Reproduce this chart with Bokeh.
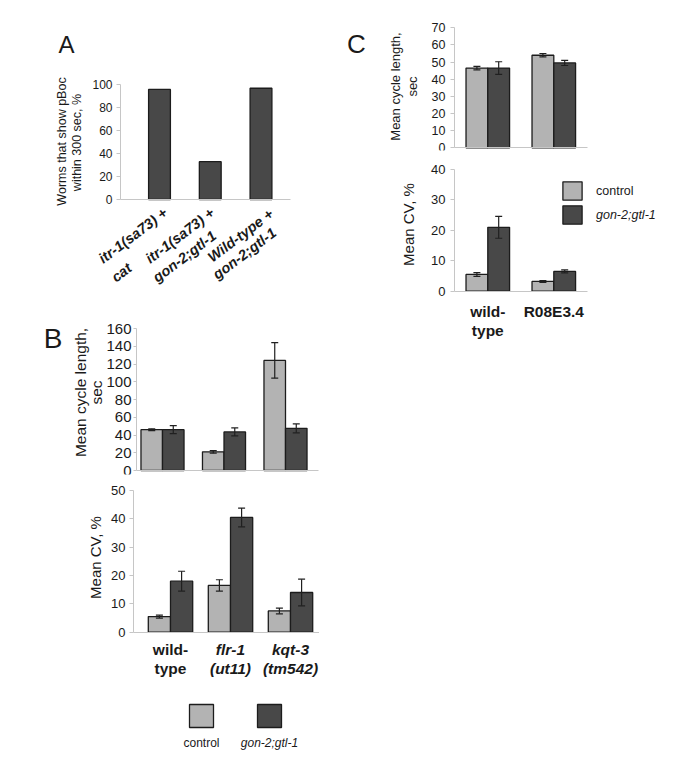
import numpy as np
from bokeh.plotting import figure
from bokeh.models import (ColumnDataSource, Range1d, Whisker, TeeHead,
                          Label, Legend, LegendItem, FixedTicker, Grid)
from bokeh.layouts import row, column
from bokeh.embed import file_html
from bokeh.resources import INLINE

# ---------------- data ----------------
series = ["control", "gon-2;gtl-1"]

a_groups = ["itr-1(sa73) + cat", "itr-1(sa73) + gon-2;gtl-1", "Wild-type + gon-2;gtl-1"]
a_label_lines = [("itr-1(sa73) +", "cat"), ("itr-1(sa73) +", "gon-2;gtl-1"), ("Wild-type +", "gon-2;gtl-1")]
a_values = [96, 33, 97]
a_yticks = [0, 20, 40, 60, 80, 100]

b_strains = ["wild-type", "flr-1 (ut11)", "kqt-3 (tm542)"]
b_label_lines = [("wild-", "type"), ("flr-1", "(ut11)"), ("kqt-3", "(tm542)")]
b_label_styles = ["bold", "bold italic", "bold italic"]
b_cycle_ctrl = [46, 21, 124]
b_cycle_ctrl_err = [1, 1.5, 20]
b_cycle_gon = [46, 43.5, 47.5]
b_cycle_gon_err = [4.5, 4.5, 5]
b_cycle_ticks = [0, 20, 40, 60, 80, 100, 120, 140, 160]
b_cv_ctrl = [5.5, 16.5, 7.5]
b_cv_ctrl_err = [0.5, 2, 1]
b_cv_gon = [18, 40.5, 14]
b_cv_gon_err = [3.5, 3.3, 4.7]
b_cv_ticks = [0, 10, 20, 30, 40, 50]

c_strains = ["wild-type", "R08E3.4"]
c_label_lines = [("wild-", "type"), ("R08E3.4", "")]
c_cycle_ctrl = [46.5, 54]
c_cycle_ctrl_err = [1, 1]
c_cycle_gon = [46.5, 49.5]
c_cycle_gon_err = [3.7, 1.5]
c_cycle_ticks = [0, 10, 20, 30, 40, 50, 60, 70]
c_cv_ctrl = [5.5, 3.2]
c_cv_ctrl_err = [0.6, 0.3]
c_cv_gon = [21, 6.5]
c_cv_gon_err = [3.6, 0.5]
c_cv_ticks = [0, 10, 20, 30, 40]

# ---------------- style ----------------
FONT = "Liberation Sans"
CTRL = "#b3b3b3"
GON = "#484848"
EDGE = "#1c1c1c"
AXIS = "#c6c6c6"
TXT = "#1a1a1a"


def geo(ox, oy, w, h, bl, bb, c0, s, y0px, k):
    fl, ft, fw, fh = ox + bl, oy, w - bl, h - bb
    xs = -(c0 - fl) / s
    ys = -(ft + fh - y0px) / k
    return dict(w=w, h=h, bl=bl, bb=bb, fl=fl, ft=ft, s=s, k=k,
                xr=(xs, xs + fw / s), yr=(ys, ys + fh / k))


def dx(g, px):
    return g["xr"][0] + (px - g["fl"]) / g["s"]


def dy(g, py):
    return g["yr"][1] - (py - g["ft"]) / g["k"]


def make_fig(g, axes=True):
    p = figure(width=g["w"], height=g["h"],
               x_range=Range1d(*g["xr"]), y_range=Range1d(*g["yr"]),
               min_border_left=g["bl"], min_border_top=0, min_border_right=0,
               min_border_bottom=g["bb"], frame_align=False,
               x_axis_location="below" if axes else None,
               y_axis_location="left" if axes else None,
               title_location=None,
               toolbar_location=None, tools="", output_backend="svg")
    p.outline_line_color = None
    p.background_fill_color = "white"
    p.border_fill_color = "white"
    for gr in p.select(type=Grid):
        gr.visible = False
    return p


def style_axes(p, g, ticks, fs, standoff, tick_out, ax_px, right_px):
    ax = p.yaxis[0]
    ax.ticker = FixedTicker(ticks=ticks)
    ax.fixed_location = dx(g, ax_px)
    ax.bounds = (ticks[0], ticks[-1])
    ax.axis_line_color = AXIS
    ax.major_tick_line_color = AXIS
    ax.major_tick_out = tick_out
    ax.major_tick_in = 0
    ax.minor_tick_line_color = None
    ax.major_label_text_font = FONT
    ax.major_label_text_font_size = fs
    ax.major_label_text_color = TXT
    ax.major_label_standoff = standoff
    xa = p.xaxis[0]
    xa.ticker = FixedTicker(ticks=[])
    xa.fixed_location = 0
    xa.bounds = (dx(g, ax_px), dx(g, right_px))
    xa.axis_line_color = AXIS
    xa.major_tick_out = 0
    xa.major_tick_in = 0
    xa.minor_tick_line_color = None
    xa.major_label_standoff = 0
    xa.major_label_text_font_size = "0px"


def txt(p, g, px, py, text, size, style="normal", angle=0.0, data_x=None):
    p.add_layout(Label(x=data_x if data_x is not None else dx(g, px), y=dy(g, py), text=text,
                       text_font=FONT, text_font_size=size, text_font_style=style,
                       text_color=TXT, text_align="center", text_baseline="middle",
                       angle=angle))


def grouped(p, ctrl, ctrl_err, gon, gon_err, bw):
    idx = np.arange(len(ctrl))
    c = np.array(ctrl, float); ce = np.array(ctrl_err, float)
    d = np.array(gon, float); de = np.array(gon_err, float)
    src = ColumnDataSource(dict(xc=idx - bw / 2, xg=idx + bw / 2, c=c, d=d,
                                c_up=c + ce, c_lo=c - ce, d_up=d + de, d_lo=d - de))
    rc = p.vbar(x="xc", top="c", bottom=0, width=bw, source=src,
                fill_color=CTRL, line_color=EDGE, line_width=1.3)
    rg = p.vbar(x="xg", top="d", bottom=0, width=bw, source=src,
                fill_color=GON, line_color=EDGE, line_width=1.3)
    for base, up, lo in (("xc", "c_up", "c_lo"), ("xg", "d_up", "d_lo")):
        w = Whisker(source=src, base=base, upper=up, lower=lo, dimension="height",
                    line_color="#202020", line_width=1.2, level="annotation",
                    upper_head=TeeHead(size=7, line_color="#202020", line_width=1.2),
                    lower_head=TeeHead(size=7, line_color="#202020", line_width=1.2))
        p.add_layout(w)
    return rc, rg


LW = 319   # left column width
RW = 355   # right column width
VERT = np.pi / 2

# ---------------- Panel A ----------------
gA = geo(0, 0, LW, 300, 40, 12, 159, 50.75, 199, 1.147)
pA = make_fig(gA)
style_axes(pA, gA, a_yticks, "12px", 4, 4, 120, 290)
pA.vbar(x=np.arange(len(a_values)), top=a_values, bottom=0, width=0.43,
        fill_color=GON, line_color=EDGE, line_width=1.3)
txt(pA, gA, 66, 44, "A", "24px")
txt(pA, gA, 61, 141, "Worms that show pBoc", "12.5px", angle=VERT)
txt(pA, gA, 76, 142, "within 300 sec, %", "12.5px", angle=VERT)
ang = np.deg2rad(37)
a_pos = [((132.5, 235), (121, 272)), ((179.5, 235), (184, 256)), ((240, 235), (244, 253))]
for (l1, l2), ((x1, y1), (x2, y2)) in zip(a_label_lines, a_pos):
    txt(pA, gA, x1, y1, l1, "14.5px", "bold italic", ang)
    txt(pA, gA, x2, y2, l2, "14.5px", "bold italic", ang)

# ---------------- Panel B top ----------------
gBt = geo(0, 300, LW, 180, 36, 6, 162, 61.5, 470, 142 / 160)
pBt = make_fig(gBt)
style_axes(pBt, gBt, b_cycle_ticks, "15px", 2, 3, 136, 318)
grouped(pBt, b_cycle_ctrl, b_cycle_ctrl_err, b_cycle_gon, b_cycle_gon_err, 0.35)
txt(pBt, gBt, 52.5, 338, "B", "28px")
txt(pBt, gBt, 80, 392, "Mean cycle length,", "15.5px", angle=VERT)
txt(pBt, gBt, 96, 392, "sec", "15.5px", angle=VERT)

# ---------------- Panel B bottom ----------------
gBb = geo(0, 480, LW, 204, 36, 6, 170, 60, 631.7, 141.7 / 50)
pBb = make_fig(gBb)
style_axes(pBb, gBb, b_cv_ticks, "13px", 4, 4, 133, 319)
grouped(pBb, b_cv_ctrl, b_cv_ctrl_err, b_cv_gon, b_cv_gon_err, 0.37)
txt(pBb, gBb, 94.5, 557, "Mean CV, %", "15px", angle=VERT)
for i, ((l1, l2), st) in enumerate(zip(b_label_lines, b_label_styles)):
    txt(pBb, gBb, 0, 649, l1, "15.5px", st, data_x=i)
    txt(pBb, gBb, 0, 668, l2, "15.5px", st, data_x=i)

# ---------------- Panel B legend ----------------
gL = geo(0, 684, LW, 76, 0, 0, 201, 68, 760, 76)
pL = make_fig(gL, axes=False)
pL.rect(x=np.arange(len(series)), y=dy(gL, 715.5), width=24, height=23, width_units="screen",
        height_units="screen", fill_color=[CTRL, GON], line_color=EDGE, line_width=1.3)
pL.text(x=np.arange(len(series)), y=dy(gL, 742), text=series,
        text_font_style=["normal", "italic"],
        text_font={"value": FONT}, text_font_size={"value": "12px"}, text_color=TXT,
        text_align="center", text_baseline="middle")

# ---------------- Panel C top ----------------
gCt = geo(LW, 0, RW, 156, 26, 6, 487.3, 66, 147.3, 120 / 70)
pCt = make_fig(gCt)
style_axes(pCt, gCt, c_cycle_ticks, "12.5px", 5, 4, 454, 587)
grouped(pCt, c_cycle_ctrl, c_cycle_ctrl_err, c_cycle_gon, c_cycle_gon_err, 0.33)
txt(pCt, gCt, 356, 43, "C", "26px")
txt(pCt, gCt, 395, 86, "Mean cycle length,", "13px", angle=VERT)
txt(pCt, gCt, 411.5, 86, "sec", "13px", angle=VERT)

# ---------------- Panel C bottom ----------------
gCb = geo(LW, 156, RW, 190, 26, 6, 487.3, 66, 290.7, 121.7 / 40)
pCb = make_fig(gCb)
style_axes(pCb, gCb, c_cv_ticks, "13px", 5, 4, 454, 587)
rc, rg = grouped(pCb, c_cv_ctrl, c_cv_ctrl_err, c_cv_gon, c_cv_gon_err, 0.33)
txt(pCb, gCb, 407.5, 224, "Mean CV, %", "15px", angle=VERT)
for i, (l1, l2) in enumerate(c_label_lines):
    txt(pCb, gCb, 0, 311, l1, "15.5px", "bold", data_x=i)
    if l2:
        txt(pCb, gCb, 0, 330, l2, "15.5px", "bold", data_x=i)

fb = gCb["ft"] + (gCb["h"] - gCb["bb"])
for lab, rend, st, ybot in (("control", rc, "normal", 202.3), (series[1], rg, "italic", 226)):
    leg = Legend(items=[LegendItem(label=lab, renderers=[rend])],
                 location=(560 - gCb["fl"], fb - ybot),
                 glyph_width=24, glyph_height=23, label_height=23, label_standoff=12,
                 padding=0, margin=0, spacing=0, border_line_color=None,
                 background_fill_alpha=0, label_text_font=FONT, label_text_font_size="12.5px",
                 label_text_font_style=st, label_text_color=TXT)
    pCb.add_layout(leg)

layout = row(column(pA, pBt, pBb, pL), column(pCt, pCb))
open("out.html", "w").write(file_html(layout, INLINE))
